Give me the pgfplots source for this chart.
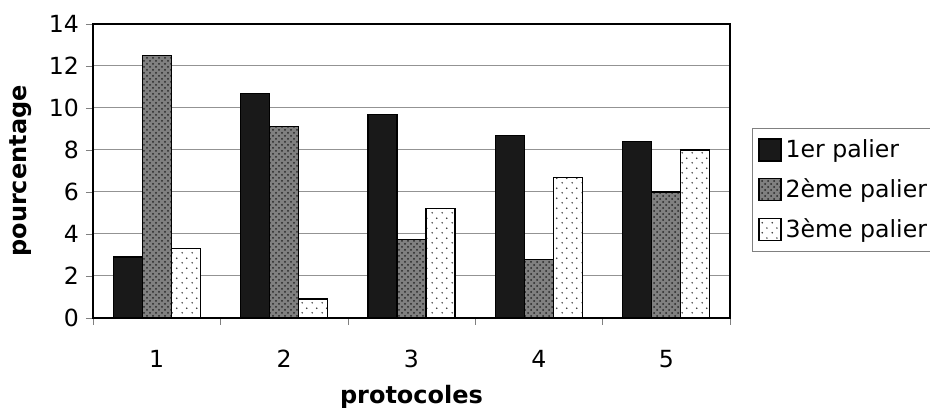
\documentclass[border=0pt]{standalone}
\usepackage{fontspec}
\setmainfont{DejaVu Sans}
\usepackage{pgfplots}
\pgfplotsset{compat=1.18}
\usetikzlibrary{patterns}

% sparse dots for the third series
\pgfdeclarepatternformonly{sparsedots}{\pgfpointorigin}{\pgfpoint{5pt}{5pt}}{\pgfpoint{5pt}{5pt}}{%
  \pgfpathcircle{\pgfpoint{1.2pt}{1.2pt}}{0.45pt}
  \pgfpathcircle{\pgfpoint{3.7pt}{3.7pt}}{0.45pt}
  \pgfusepath{fill}}

\begin{document}
\begin{tikzpicture}
\begin{axis}[
  name=ax,
  scale only axis,
  width=318.5pt, height=147pt,
  ybar=0pt, bar width=14.5pt,
  xmin=0.5, xmax=5.5,
  ymin=0, ymax=14,
  xtick={1,2,3,4,5},
  minor xtick={0.5,1.5,2.5,3.5,4.5,5.5},
  ytick={0,2,...,14},
  tick align=outside,
  major tick length=3.5pt, minor tick length=3.5pt,
  every major x tick/.append style={draw=none},
  xtick pos=bottom, ytick pos=left,
  ymajorgrids,
  grid style={gray!85, line width=0.5pt},
  axis line style={black, line width=0.8pt},
  /pgf/number format/assume math mode=true,
  tick label style={font=\fontsize{11.8}{13}\selectfont},
  xticklabel style={yshift=-9pt},
  xlabel={protocoles},
  ylabel={pourcentage},
  label style={font=\fontsize{12}{13}\selectfont\bfseries},
  xlabel style={at={(axis description cs:0.5,0)}, anchor=center, yshift=-39.5pt},
  ylabel style={at={(axis description cs:-0.113,0.5)}, anchor=center},
  legend style={at={(1.0345,0.6463)}, anchor=north west, draw=gray,
    line width=0.5pt, font=\fontsize{11.8}{13}\selectfont,
    row sep=5pt, inner xsep=3pt, inner ysep=3.5pt},
  legend cell align=left,
  legend image code/.code={\draw[#1, line width=0.6pt] (0pt,-5.5pt) rectangle (11pt,5.5pt);},
]
\addplot[draw=black, line width=0.6pt, fill=black!90] coordinates {
  (1,2.9) (2,10.7) (3,9.7) (4,8.7) (5,8.4)};
\addlegendentry{1er palier}
\addplot[draw=black, line width=0.6pt, fill=black!50,
  postaction={pattern=crosshatch dots, pattern color=black!85}] coordinates {
  (1,12.5) (2,9.1) (3,3.75) (4,2.8) (5,6.0)};
\addlegendentry{2ème palier}
\addplot[draw=black, line width=0.6pt, fill=white,
  postaction={pattern=sparsedots, pattern color=black!80}] coordinates {
  (1,3.3) (2,0.9) (3,5.2) (4,6.7) (5,8.0)};
\addlegendentry{3ème palier}
\end{axis}
\pgfresetboundingbox
\path (ax.south west) ++(-46.5pt,-48.5pt) rectangle ++(465pt,207.5pt);
\end{tikzpicture}
\end{document}
